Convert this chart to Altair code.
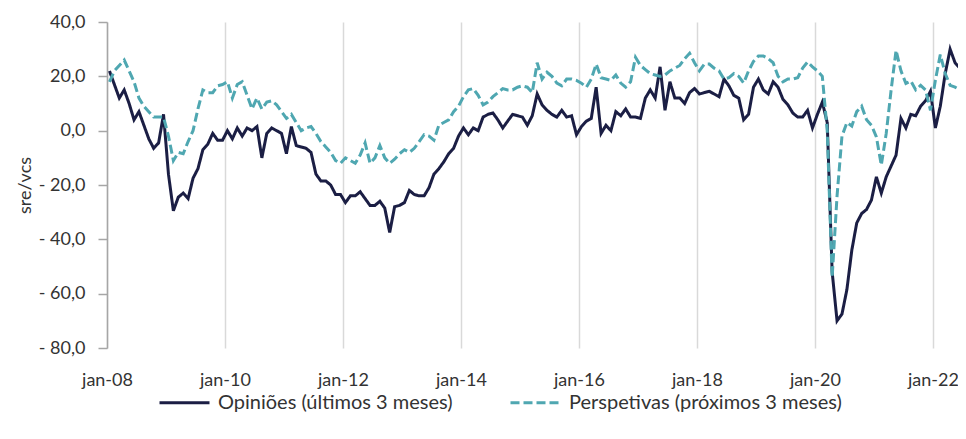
import altair as alt
import pandas as pd

# Monthly values, jan-08 .. jul-22
opinioes = [
    22, 17, 12, 15, 10, 4, 7, 2, -3, -6.5, -4.5, 6,
    -16, -29.5, -24.5, -23, -25, -17.5, -14, -7, -5, -1, -3.5, -3.5,
    0, -3, 1, -2, 1, 0, 1.5, -10, -1, 1, 0, -1,
    -8.5, 1.5, -5.5, -6, -6.5, -8, -16, -18.5, -18.5, -20, -23.5, -23.5,
    -26.5, -24, -24, -22.5, -25, -27.5, -27.5, -26, -28.5, -37.5, -28, -27.5,
    -26.5, -22, -23.5, -24, -24, -21, -16, -14, -11.5, -8.5, -6.5, -2,
    1, -1.5, 1, 0, 5, 6, 6.5, 4, 1, 3.5, 6, 5.5,
    5, 2, 5.5, 13.5, 9.5, 7.5, 6, 5, 7.5, 5, 5.5, -1.5,
    1.5, 3.5, 4.5, 16, -1, 2, 0, 7, 5.5, 8, 5, 5,
    4.5, 12, 15, 12, 23.5, 7.5, 18, 12, 12, 10, 14, 15.5,
    13.5, 14, 14.5, 13.5, 12.5, 19, 16.5, 13, 12, 4, 6, 16,
    19, 15, 13.5, 18, 16, 11.5, 9.5, 6.5, 5, 5, 7.5, 1,
    6, 10.5, 3, -52, -70, -67.5, -58.5, -44, -34, -30.5, -29, -25.5,
    -17, -23, -17, -13, -9, 4.5, 1, 6, 5.5, 9, 11, 14.5,
    1, 9, 21, 30, 25, 23, 14,
]
perspetivas = [
    18, 22, 24, 26, 22, 18, 12, 9, 7, 5, 5, 5,
    -2, -11, -8, -8.5, -4, 0, 8, 15, 14, 14, 16.5, 17,
    18, 12, 17, 18, 13, 8, 12, 8, 10.5, 11, 9.5, 7,
    4.5, 6, 3, 0, 1, 1.5, -1, -4, -6, -8, -11, -12,
    -10, -11, -12, -9, -4.5, -12, -10, -5.5, -10, -12, -10.5, -8.5,
    -7, -8, -6.5, -4, -1.5, -2, -3.5, 2, 3, 4, 7, 9,
    12.5, 15, 15.5, 13, 9.5, 10.5, 12.5, 14, 15.5, 15, 15, 16,
    16.5, 16, 14, 25, 19, 21.5, 20, 17.5, 16.5, 19, 19, 18.5,
    17.5, 16, 19, 24.5, 19.5, 19, 18.5, 20.5, 17.5, 16, 18, 27,
    24, 22.5, 21, 20.5, 20, 20.5, 22, 23, 24, 26.5, 28.5, 25,
    22, 24.5, 24.5, 23, 22, 19, 19.5, 21, 20, 17.5, 22, 25.5,
    27.5, 27.5, 26.5, 25, 20, 18, 19, 19, 19.5, 23, 25.3, 23.5,
    22, 20, 0, -54, -24, -2, 3, 1.7, 7, 9, 4, 2,
    -2.3, -12.7, -1, 15, 29.6, 22, 17.4, 18.3, 15, 16.7, 15, 7.5,
    18.6, 28, 21, 16.7, 16, 15, 12,
]

series_names = ["Opiniões (últimos 3 meses)", "Perspetivas (próximos 3 meses)"]
series_colors = ["#1b1e44", "#4fa7b1"]
x_tick_months = [0, 24, 48, 72, 96, 120, 144, 168]
y_ticks = [40, 20, 0, -20, -40, -60, -80]

n = len(opinioes)
months = pd.date_range("2008-01-01", periods=n, freq="MS")
t = [(d.year - 2008) * 12 + d.month - 1 + 0.5 for d in months]

df = pd.DataFrame({
    "t": t * 2,
    "mes": list(months.strftime("%Y-%m")) * 2,
    "valor": opinioes + perspetivas,
    "serie": [series_names[0]] * n + [series_names[1]] * n,
})

FONT = "Lato"

chart = alt.Chart(df).mark_line(strokeWidth=3, clip=True).encode(
    x=alt.X(
        "t:Q",
        scale=alt.Scale(domain=[0, 173.1], nice=False, zero=False),
        axis=alt.Axis(
            values=x_tick_months,
            labelExpr="'jan-' + (datum.value/12 + 8 < 10 ? '0' : '') + (datum.value/12 + 8)",
            title=None,
            domain=False,
            ticks=False,
            grid=True,
            gridColor="#d9d9d9",
            gridWidth=1.5,
            labelFlush=False,
            labelPadding=23,
            labelFontSize=18,
            labelFont=FONT,
            labelColor="#333333",
        ),
    ),
    y=alt.Y(
        "valor:Q",
        scale=alt.Scale(domain=[-80, 40], nice=False),
        axis=alt.Axis(
            values=y_ticks,
            labelExpr="(datum.value < 0 ? '- ' : '') + replace(format(abs(datum.value), '.1f'), '.', ',')",
            title="sre/vcs",
            titleFont=FONT,
            titleFontSize=18,
            titleFontWeight="normal",
            titleColor="#333333",
            titlePadding=4,
            grid=False,
            domainColor="#a6a6a6",
            domainWidth=1.5,
            tickColor="#a6a6a6",
            tickWidth=1.5,
            tickSize=9,
            labelPadding=13,
            labelFontSize=18,
            labelFont=FONT,
            labelColor="#333333",
        ),
    ),
    color=alt.Color(
        "serie:N",
        title=None,
        scale=alt.Scale(domain=series_names, range=series_colors),
    ),
    strokeDash=alt.StrokeDash(
        "serie:N",
        title=None,
        scale=alt.Scale(domain=series_names, range=[[1, 0], [9, 4]]),
    ),
).properties(
    width=851,
    height=326,
    autosize=alt.AutoSizeParams(type="none"),
    padding={"left": 99, "top": 14, "right": 0, "bottom": 91},
).configure_view(
    stroke=None
).configure_legend(
    orient="none",
    legendX=51,
    legendY=354,
    direction="horizontal",
    symbolType="stroke",
    symbolSize=2500,
    symbolStrokeWidth=3,
    labelFont=FONT,
    labelFontSize=20,
    labelColor="#333333",
    labelOffset=7,
    columnPadding=51,
    labelLimit=400,
)

chart.save("out.html", embed_options={"renderer": "svg", "actions": False})
